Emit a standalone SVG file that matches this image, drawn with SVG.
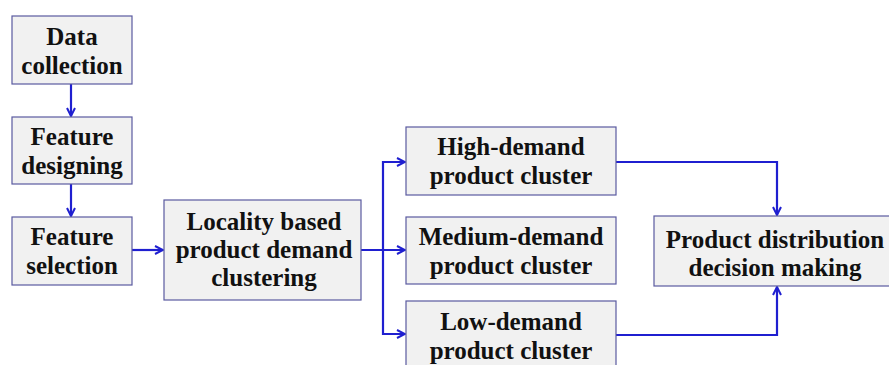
<svg xmlns="http://www.w3.org/2000/svg" width="889" height="365" viewBox="0 0 889 365">
<style>
.box{fill:#f1f1f1;stroke:#5a5aa0;stroke-width:1.2}
.t{font-family:"Liberation Serif","Times New Roman",serif;font-weight:bold;font-size:25px;fill:#111;text-anchor:middle}
.c{fill:none;stroke:#1f1fd0;stroke-width:2.2}
</style>
<defs>
<marker id="ah" viewBox="0 0 10 10" refX="9" refY="5" markerWidth="10" markerHeight="10" markerUnits="userSpaceOnUse" orient="auto">
<path d="M1,1 L9,5 L1,9" fill="none" stroke="#1f1fd0" stroke-width="2"/>
</marker>
</defs>
<rect width="889" height="365" fill="#fff"/>
<g id="connectors">
<path class="c" d="M71,84 V116" marker-end="url(#ah)"/>
<path class="c" d="M71,184 V216" marker-end="url(#ah)"/>
<path class="c" d="M132,250 H163" marker-end="url(#ah)"/>
<path class="c" d="M361,250 H405" marker-end="url(#ah)"/>
<path class="c" d="M383,250 V162 H405" marker-end="url(#ah)"/>
<path class="c" d="M383,250 V334 H405" marker-end="url(#ah)"/>
<path class="c" d="M616,162 H777 V215" marker-end="url(#ah)"/>
<path class="c" d="M616,335 H777 V287" marker-end="url(#ah)"/>
</g>
<g id="data-collection">
<rect class="box" x="12" y="16" width="120" height="68"/>
<text class="t" x="72" y="45">Data</text>
<text class="t" x="72" y="74">collection</text>
</g>
<g id="feature-designing">
<rect class="box" x="12" y="117" width="120" height="67"/>
<text class="t" x="72" y="145">Feature</text>
<text class="t" x="72" y="174">designing</text>
</g>
<g id="feature-selection">
<rect class="box" x="12" y="217" width="120" height="68"/>
<text class="t" x="72" y="245">Feature</text>
<text class="t" x="72" y="274">selection</text>
</g>
<g id="locality-clustering">
<rect class="box" x="164" y="200" width="197" height="100"/>
<text class="t" x="264" y="230">Locality based</text>
<text class="t" x="264" y="258">product demand</text>
<text class="t" x="264" y="286">clustering</text>
</g>
<g id="high-demand">
<rect class="box" x="406" y="127" width="210" height="68"/>
<text class="t" x="511" y="155">High-demand</text>
<text class="t" x="511" y="184">product cluster</text>
</g>
<g id="medium-demand">
<rect class="box" x="406" y="217" width="210" height="67"/>
<text class="t" x="511" y="245">Medium-demand</text>
<text class="t" x="511" y="274">product cluster</text>
</g>
<g id="low-demand">
<rect class="box" x="406" y="301" width="210" height="70"/>
<text class="t" x="511" y="330">Low-demand</text>
<text class="t" x="511" y="359">product cluster</text>
</g>
<g id="product-distribution">
<rect class="box" x="654" y="216" width="245" height="70"/>
<text class="t" x="775" y="248">Product distribution</text>
<text class="t" x="775" y="276">decision making</text>
</g>
</svg>
